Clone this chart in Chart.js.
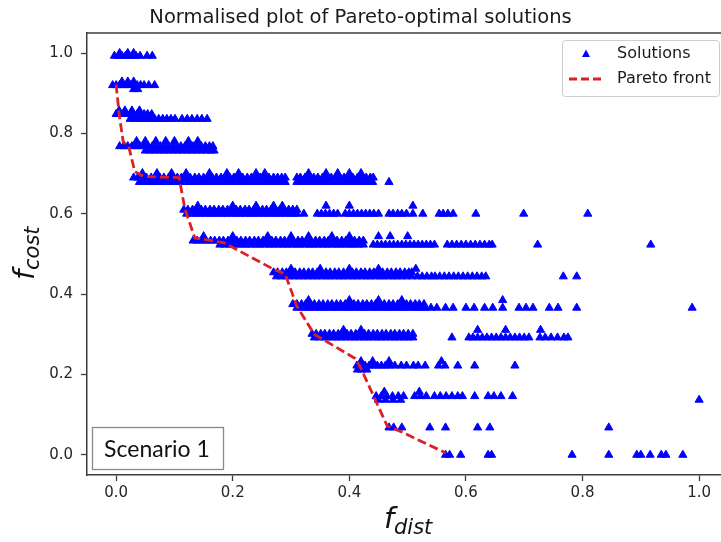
<!DOCTYPE html>
<html>
<head>
<meta charset="utf-8">
<script src="https://cdn.jsdelivr.net/npm/chart.js@4.4.1/dist/chart.umd.min.js"></script>
<style>
  body { margin: 0; background: #fff; }
</style>
</head>
<body>
<canvas id="pareto" width="721" height="542"></canvas>
<script>
// f_cost level of each row of solutions and the f_dist values read on that row
var rowCost = [
    0.993, 1.0,
    0.92, 0.929, 0.91,
    0.848, 0.857, 0.836,
    0.768, 0.781, 0.757,
    0.69, 0.701, 0.679,
    0.61, 0.62, 0.6,
    0.533, 0.544, 0.523,
    0.454, 0.463, 0.444,
    0.375, 0.385, 0.366,
    0.301, 0.311, 0.292,
    0.222, 0.233, 0.212,
    0.146, 0.157, 0.137,
    0.068,
    0.0
];
var rowDist = [
    [-0.003, 0.004, 0.01, 0.016, 0.022, 0.028, 0.034, 0.041, 0.053, 0.062],
    [0.006, 0.02, 0.03],

    [-0.006, 0.0, 0.006, 0.012, 0.018, 0.024, 0.03, 0.036, 0.042, 0.048, 0.056, 0.066],
    [0.01, 0.02, 0.03],
    [0.03, 0.037],

    [0.0, 0.006, 0.012, 0.018, 0.024, 0.03, 0.036, 0.042, 0.048, 0.054, 0.061],
    [0.005, 0.015, 0.027, 0.04],
    [0.024, 0.031, 0.038, 0.045, 0.052, 0.059, 0.066, 0.073, 0.08, 0.087, 0.094, 0.101,
     0.113, 0.122, 0.13, 0.139, 0.147, 0.156],

    [0.006, 0.013, 0.02, 0.027, 0.034, 0.041, 0.048, 0.055, 0.062, 0.069, 0.076, 0.083,
     0.09, 0.097, 0.104, 0.111, 0.118, 0.125, 0.132, 0.139, 0.146, 0.153, 0.16, 0.166],
    [0.035, 0.05, 0.068, 0.085, 0.1, 0.124, 0.14],
    [0.05, 0.058, 0.066, 0.074, 0.082, 0.09, 0.098, 0.106, 0.114, 0.122, 0.13, 0.138,
     0.146, 0.154, 0.162, 0.168],

    [0.03, 0.037, 0.045, 0.052, 0.06, 0.067, 0.075, 0.082, 0.09, 0.097, 0.105, 0.112,
     0.12, 0.127, 0.135, 0.142, 0.15, 0.157, 0.165, 0.172, 0.18, 0.187, 0.195, 0.202,
     0.21, 0.217, 0.225, 0.232, 0.24, 0.247, 0.255, 0.262, 0.27, 0.277, 0.284, 0.29,
     0.31, 0.316, 0.324, 0.331, 0.339, 0.346, 0.354, 0.361, 0.369, 0.376, 0.384, 0.391,
     0.399, 0.406, 0.414, 0.421, 0.429, 0.436, 0.441],
    [0.045, 0.07, 0.095, 0.12, 0.16, 0.19, 0.21, 0.24, 0.255, 0.33, 0.36, 0.38, 0.4, 0.42],
    [0.04, 0.048, 0.056, 0.063, 0.071, 0.079, 0.086, 0.094, 0.102, 0.109, 0.117, 0.125,
     0.132, 0.14, 0.148, 0.155, 0.163, 0.171, 0.178, 0.186, 0.194, 0.201, 0.209, 0.217,
     0.224, 0.232, 0.24, 0.247, 0.255, 0.263, 0.27, 0.278, 0.286, 0.29, 0.31, 0.317,
     0.325, 0.333, 0.34, 0.348, 0.356, 0.363, 0.371, 0.379, 0.386, 0.394, 0.402, 0.409,
     0.417, 0.425, 0.432, 0.44, 0.468],

    [0.116, 0.123, 0.131, 0.138, 0.146, 0.153, 0.161, 0.168, 0.176, 0.183, 0.191, 0.198,
     0.206, 0.213, 0.221, 0.228, 0.236, 0.243, 0.251, 0.258, 0.266, 0.273, 0.281, 0.288,
     0.296, 0.303, 0.31],
    [0.14, 0.2, 0.24, 0.27, 0.285, 0.36, 0.4, 0.509],
    [0.121, 0.129, 0.137, 0.144, 0.152, 0.16, 0.167, 0.175, 0.183, 0.19, 0.198, 0.206,
     0.213, 0.221, 0.229, 0.236, 0.244, 0.252, 0.259, 0.267, 0.275, 0.282, 0.29, 0.298,
     0.305, 0.31, 0.322, 0.345, 0.352, 0.359, 0.366, 0.373, 0.38, 0.393, 0.4, 0.407,
     0.414, 0.421, 0.428, 0.435, 0.442, 0.45, 0.468, 0.475, 0.483, 0.49, 0.498, 0.509,
     0.526, 0.554, 0.561, 0.569, 0.578, 0.617, 0.699, 0.809],

    [0.132, 0.139, 0.147, 0.154, 0.162, 0.169, 0.177, 0.184, 0.192, 0.199, 0.207, 0.214,
     0.222, 0.229, 0.237, 0.244, 0.252, 0.259, 0.267, 0.274, 0.282, 0.289, 0.297, 0.304,
     0.312, 0.319, 0.327, 0.334, 0.342, 0.349, 0.357, 0.364, 0.372, 0.379, 0.387, 0.394,
     0.402, 0.409, 0.417, 0.424],
    [0.15, 0.2, 0.26, 0.3, 0.33, 0.37, 0.4, 0.45, 0.47, 0.5],
    [0.178, 0.186, 0.194, 0.201, 0.209, 0.217, 0.224, 0.232, 0.24, 0.247, 0.255, 0.263,
     0.27, 0.278, 0.286, 0.293, 0.301, 0.309, 0.316, 0.324, 0.332, 0.339, 0.347, 0.355,
     0.362, 0.37, 0.378, 0.385, 0.393, 0.401, 0.408, 0.416, 0.424, 0.441, 0.448, 0.455,
     0.462, 0.469, 0.476, 0.483, 0.49, 0.497, 0.504, 0.511, 0.518, 0.525, 0.532, 0.539,
     0.546, 0.568, 0.576, 0.584, 0.592, 0.6, 0.608, 0.616, 0.624, 0.632, 0.64, 0.645,
     0.723, 0.917],

    [0.27, 0.277, 0.285, 0.292, 0.3, 0.307, 0.315, 0.322, 0.33, 0.337, 0.345, 0.352,
     0.36, 0.367, 0.375, 0.382, 0.39, 0.397, 0.405, 0.412, 0.42, 0.427, 0.435, 0.442,
     0.45, 0.457, 0.465, 0.472, 0.48, 0.487, 0.495, 0.502, 0.507],
    [0.3, 0.35, 0.4, 0.45, 0.514],
    [0.275, 0.283, 0.291, 0.298, 0.306, 0.314, 0.321, 0.329, 0.337, 0.344, 0.352, 0.36,
     0.367, 0.375, 0.383, 0.39, 0.398, 0.406, 0.413, 0.421, 0.429, 0.436, 0.444, 0.452,
     0.459, 0.467, 0.475, 0.482, 0.49, 0.498, 0.507, 0.517, 0.525, 0.533, 0.541, 0.547,
     0.555, 0.563, 0.571, 0.579, 0.587, 0.595, 0.603, 0.611, 0.619, 0.627, 0.634, 0.767,
     0.79],

    [0.303, 0.31, 0.318, 0.325, 0.333, 0.34, 0.348, 0.355, 0.363, 0.37, 0.378, 0.385,
     0.393, 0.4, 0.408, 0.415, 0.423, 0.43, 0.438, 0.445, 0.453, 0.46, 0.468, 0.475,
     0.483, 0.49, 0.498, 0.505, 0.513, 0.52, 0.528],
    [0.33, 0.4, 0.45, 0.49, 0.663],
    [0.31, 0.318, 0.326, 0.333, 0.341, 0.349, 0.356, 0.364, 0.372, 0.379, 0.387, 0.395,
     0.402, 0.41, 0.418, 0.425, 0.433, 0.441, 0.448, 0.456, 0.464, 0.471, 0.479, 0.487,
     0.494, 0.502, 0.51, 0.517, 0.525, 0.53, 0.54, 0.55, 0.565, 0.578, 0.6, 0.614,
     0.632, 0.646, 0.663, 0.691, 0.703, 0.715, 0.743, 0.758, 0.79, 0.988],

    [0.336, 0.343, 0.351, 0.358, 0.366, 0.373, 0.381, 0.388, 0.396, 0.403, 0.411, 0.418,
     0.426, 0.433, 0.441, 0.448, 0.456, 0.463, 0.471, 0.478, 0.486, 0.493, 0.501, 0.509],
    [0.39, 0.42, 0.62, 0.668, 0.728],
    [0.34, 0.348, 0.356, 0.363, 0.371, 0.379, 0.386, 0.394, 0.402, 0.409, 0.417, 0.425,
     0.432, 0.44, 0.448, 0.455, 0.463, 0.471, 0.478, 0.486, 0.494, 0.501, 0.509, 0.576,
     0.605, 0.612, 0.62, 0.628, 0.636, 0.644, 0.652, 0.66, 0.668, 0.676, 0.684, 0.692,
     0.7, 0.708, 0.727, 0.736, 0.746, 0.757, 0.768, 0.775],

    [0.413, 0.42, 0.427, 0.434, 0.441, 0.448, 0.455, 0.462, 0.469, 0.478, 0.489, 0.498,
     0.51, 0.518, 0.53, 0.553, 0.564, 0.586, 0.615, 0.684],
    [0.42, 0.44, 0.468, 0.558],
    [0.414, 0.421, 0.43],

    [0.446, 0.455, 0.464, 0.474, 0.484, 0.493, 0.512, 0.522, 0.532, 0.546, 0.556, 0.566,
     0.576, 0.586, 0.594, 0.615, 0.638, 0.648, 0.66, 0.68],
    [0.46, 0.52],
    [0.45, 0.462, 0.475, 0.488, 1.0],

    [0.468, 0.476, 0.49, 0.538, 0.565, 0.62, 0.641, 0.845],

    [0.565, 0.572, 0.591, 0.638, 0.644, 0.782, 0.845, 0.893, 0.9, 0.916, 0.935, 0.943, 0.972]
];

// pareto front (f_dist, f_cost)
var paretoDist = [0.0, 0.005, 0.012, 0.022, 0.032, 0.048, 0.108, 0.118, 0.135, 0.185,
                  0.27, 0.29, 0.31, 0.34, 0.41, 0.42, 0.465, 0.49, 0.565];
var paretoCost = [0.922, 0.85, 0.78, 0.765, 0.705, 0.693, 0.69, 0.612, 0.54, 0.528,
                  0.462, 0.45, 0.37, 0.3, 0.24, 0.215, 0.072, 0.057, 0.005];

var xTicks = [0.0, 0.2, 0.4, 0.6, 0.8, 1.0];
var yTicks = [0.0, 0.2, 0.4, 0.6, 0.8, 1.0];

var solutions = [];
rowCost.forEach(function (c, i) {
    rowDist[i].forEach(function (d) { solutions.push({ x: d, y: c }); });
});
var front = paretoDist.map(function (d, i) { return { x: d, y: paretoCost[i] }; });

var BLUE = '#0000ff';
var RED = '#dd2025';
var AXIS = '#3c3c3c';
var FONT = "'DejaVu Sans', sans-serif";

// top spine, axis titles with subscripts, legend box and the scenario label
var extras = {
    id: 'extras',
    afterDraw: function (chart) {
        var c = chart.ctx, a = chart.chartArea;
        c.save();
        c.strokeStyle = AXIS;
        c.lineWidth = 1.5;
        c.beginPath();
        c.moveTo(a.left, a.top);
        c.lineTo(a.right, a.top);
        c.stroke();

        // x axis title: f_dist
        c.fillStyle = '#111';
        c.textBaseline = 'alphabetic';
        c.textAlign = 'left';
        c.font = 'italic 29px ' + FONT;
        c.fillText('f', 384, 528);
        c.font = 'italic 21px ' + FONT;
        c.fillText('dist', 394, 534);

        // y axis title: f_cost
        c.save();
        c.rotate(-Math.PI / 2);
        c.font = 'italic 29px ' + FONT;
        c.fillText('f', -280, 34);
        c.font = 'italic 21px ' + FONT;
        c.fillText('cost', -270, 39);
        c.restore();

        // legend
        c.fillStyle = 'rgba(255,255,255,0.85)';
        c.strokeStyle = '#cccccc';
        c.lineWidth = 1;
        c.beginPath();
        c.roundRect(562.5, 40.5, 157, 56, 3);
        c.fill();
        c.stroke();
        c.fillStyle = BLUE;
        c.beginPath();
        c.moveTo(586, 49.5);
        c.lineTo(590, 57);
        c.lineTo(582, 57);
        c.closePath();
        c.fill();
        c.strokeStyle = RED;
        c.lineWidth = 2.8;
        c.setLineDash([8, 4]);
        c.beginPath();
        c.moveTo(569, 79);
        c.lineTo(604, 79);
        c.stroke();
        c.setLineDash([]);
        c.fillStyle = '#1a1a1a';
        c.font = '16px ' + FONT;
        c.textBaseline = 'middle';
        c.fillText('Solutions', 617, 54);
        c.fillText('Pareto front', 617, 79);

        // scenario label
        c.fillStyle = '#ffffff';
        c.strokeStyle = '#8a8a8a';
        c.lineWidth = 1.3;
        c.fillRect(92.5, 427.5, 131, 42);
        c.strokeRect(92.5, 427.5, 131, 42);
        c.fillStyle = '#111';
        c.font = "23px Lato, 'Open Sans', sans-serif";
        c.textAlign = 'center';
        c.textBaseline = 'alphabetic';
        c.fillText('Scenario 1', 157, 457);
        c.restore();
    }
};

function noPadding(axis) {
    axis.paddingLeft = 0;
    axis.paddingRight = 0;
    axis.paddingTop = 0;
    axis.paddingBottom = 0;
}

new Chart(document.getElementById('pareto').getContext('2d'), {
    type: 'scatter',
    data: {
        datasets: [
            {
                label: 'Pareto front',
                data: front,
                showLine: true,
                borderColor: RED,
                borderWidth: 2.8,
                borderDash: [9, 4],
                pointRadius: 0,
                fill: false,
                order: 0
            },
            {
                label: 'Solutions',
                data: solutions,
                pointStyle: 'triangle',
                pointRadius: 4.7,
                backgroundColor: BLUE,
                borderColor: BLUE,
                borderWidth: 1,
                order: 1
            }
        ]
    },
    options: {
        responsive: false,
        animation: false,
        layout: { padding: 0, autoPadding: false },
        plugins: {
            legend: { display: false },
            tooltip: { enabled: false },
            title: {
                display: true,
                text: 'Normalised plot of Pareto-optimal solutions',
                color: '#1a1a1a',
                font: { family: FONT, size: 19.5, weight: 'normal' },
                padding: { top: 6.5, bottom: 3.1 }
            }
        },
        scales: {
            x: {
                type: 'linear',
                min: -0.05,
                max: 1.0375,
                afterBuildTicks: function (axis) {
                    axis.ticks = xTicks.map(function (v) { return { value: v }; });
                },
                afterFit: function (axis) { axis.height = 67; noPadding(axis); },
                ticks: {
                    color: '#262626',
                    font: { family: FONT, size: 15 },
                    padding: 3,
                    maxRotation: 0,
                    callback: function (v) { return v.toFixed(1); }
                },
                grid: {
                    display: true,
                    drawOnChartArea: false,
                    drawTicks: true,
                    tickLength: 6,
                    tickColor: AXIS,
                    tickWidth: 1.3
                },
                border: { color: AXIS, width: 1.5 }
            },
            y: {
                type: 'linear',
                min: -0.05,
                max: 1.05,
                afterBuildTicks: function (axis) {
                    axis.ticks = yTicks.map(function (v) { return { value: v }; });
                },
                afterFit: function (axis) { axis.width = 87; noPadding(axis); },
                ticks: {
                    color: '#262626',
                    font: { family: FONT, size: 15 },
                    padding: 8,
                    callback: function (v) { return v.toFixed(1); }
                },
                grid: {
                    display: true,
                    drawOnChartArea: false,
                    drawTicks: true,
                    tickLength: 6,
                    tickColor: AXIS,
                    tickWidth: 1.3
                },
                border: { color: AXIS, width: 1.5 }
            }
        }
    },
    plugins: [extras]
});
</script>
</body>
</html>
